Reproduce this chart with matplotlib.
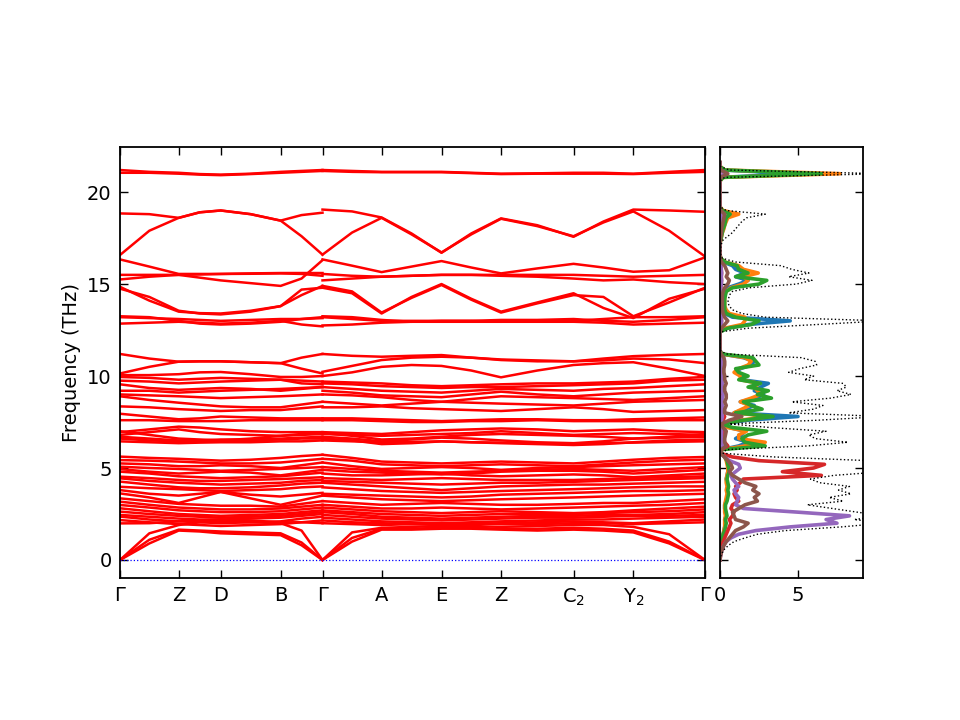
import matplotlib
matplotlib.use("Agg")
import matplotlib.pyplot as plt
import numpy as np

plt.rcParams["font.size"] = 14

# special points along the path (cumulative distance) and their labels
kdist = [0.0, 0.0587, 0.1007, 0.1606, 0.2025, 0.2616, 0.3215, 0.381, 0.4535, 0.5133, 0.585]
klabels = ["Γ", "Z", "D", "B", "Γ", "A", "E", "Z", "C$_2$", "Y$_2$", "Γ"]

# frequencies (THz) at special points and segment midpoints
# branch 1: Γ-Z-D-B-Γ (9 nodes), branch 2: Γ-A-E-Z-C2-Y2-Γ (13 nodes)
bands_b1 = [
    [21.2, 21.1, 21.05, 20.98, 20.95, 21.0, 21.1, 21.15, 21.2],
    [21.05, 21.05, 21.0, 20.95, 20.92, 20.98, 21.05, 21.1, 21.15],
    [18.84, 18.8, 18.6, 18.9, 19.0, 18.8, 18.45, 18.75, 18.88],
    [16.58, 17.9, 18.6, 18.9, 19.0, 18.8, 18.45, 17.6, 16.6],
    [16.34, 15.95, 15.55, 15.55, 15.55, 15.58, 15.6, 15.6, 15.6],
    [15.5, 15.5, 15.5, 15.35, 15.2, 15.05, 14.9, 15.3, 16.3],
    [15.25, 15.4, 15.5, 15.52, 15.55, 15.56, 15.58, 15.55, 15.45],
    [14.85, 14.1, 13.5, 13.42, 13.4, 13.55, 13.8, 14.7, 14.8],
    [14.75, 14.3, 13.55, 13.4, 13.35, 13.5, 13.8, 14.4, 14.9],
    [13.2, 13.15, 13.1, 13.05, 13.0, 13.05, 13.1, 13.1, 13.15],
    [12.85, 12.9, 12.95, 12.9, 12.85, 12.9, 13.0, 12.8, 12.7],
    [13.25, 13.2, 13.0, 12.85, 12.8, 12.85, 12.95, 13.1, 13.2],
    [11.2, 10.95, 10.78, 10.8, 10.8, 10.75, 10.7, 11.0, 11.2],
    [10.14, 10.5, 10.78, 10.8, 10.8, 10.75, 10.7, 10.4, 10.14],
    [10.05, 10.05, 10.1, 10.2, 10.22, 10.1, 9.95, 9.95, 10.0],
    [9.95, 9.9, 9.8, 9.85, 9.9, 9.85, 9.8, 9.75, 9.7],
    [9.75, 9.7, 9.6, 9.65, 9.7, 9.75, 9.8, 9.6, 9.55],
    [9.55, 9.35, 9.25, 9.3, 9.35, 9.3, 9.2, 9.3, 9.4],
    [9.2, 9.2, 9.1, 9.15, 9.2, 9.25, 9.3, 9.35, 9.4],
    [9.0, 8.95, 8.9, 8.85, 8.8, 8.85, 8.9, 8.95, 9.0],
    [8.9, 8.7, 8.55, 8.45, 8.35, 8.3, 8.3, 8.45, 8.6],
    [8.35, 8.3, 8.2, 8.15, 8.1, 8.15, 8.15, 8.25, 8.35],
    [7.95, 7.8, 7.65, 7.7, 7.8, 7.75, 7.7, 7.7, 7.7],
    [7.6, 7.6, 7.55, 7.55, 7.55, 7.6, 7.6, 7.6, 7.6],
    [6.95, 7.1, 7.25, 7.2, 7.1, 7.0, 6.95, 6.95, 6.95],
    [6.8, 6.95, 7.1, 6.95, 6.85, 6.8, 6.75, 6.8, 6.85],
    [6.7, 6.6, 6.5, 6.5, 6.55, 6.55, 6.6, 6.65, 6.7],
    [6.6, 6.5, 6.45, 6.45, 6.45, 6.5, 6.55, 6.6, 6.6],
    [6.45, 6.4, 6.35, 6.38, 6.4, 6.4, 6.45, 6.45, 6.5],
    [7.0, 6.8, 6.6, 6.55, 6.5, 6.6, 6.75, 6.85, 6.9],
    [5.62, 5.55, 5.5, 5.45, 5.4, 5.45, 5.55, 5.65, 5.72],
    [5.43, 5.4, 5.35, 5.3, 5.25, 5.25, 5.3, 5.4, 5.5],
    [5.25, 5.2, 5.1, 5.1, 5.15, 5.1, 5.0, 5.15, 5.3],
    [5.07, 5.0, 4.95, 4.9, 4.85, 4.9, 4.95, 5.0, 5.05],
    [4.94, 4.8, 4.7, 4.75, 4.8, 4.75, 4.6, 4.75, 4.9],
    [4.8, 4.7, 4.55, 4.5, 4.45, 4.5, 4.55, 4.65, 4.75],
    [4.53, 4.45, 4.35, 4.3, 4.3, 4.35, 4.4, 4.45, 4.5],
    [4.44, 4.3, 4.2, 4.15, 4.1, 4.15, 4.2, 4.3, 4.35],
    [4.26, 4.1, 3.95, 3.9, 3.9, 3.95, 4.05, 4.15, 4.2],
    [3.98, 3.9, 3.85, 3.8, 3.75, 3.8, 3.85, 3.95, 4.0],
    [3.8, 3.6, 3.5, 3.6, 3.7, 3.55, 3.45, 3.55, 3.65],
    [3.62, 3.4, 3.1, 3.4, 3.7, 3.35, 3.0, 3.25, 3.5],
    [3.35, 3.2, 3.05, 3.0, 2.95, 2.95, 2.9, 3.05, 3.2],
    [3.17, 3.0, 2.85, 2.8, 2.75, 2.75, 2.8, 2.9, 3.0],
    [2.99, 2.85, 2.7, 2.65, 2.6, 2.6, 2.65, 2.75, 2.85],
    [2.81, 2.65, 2.5, 2.45, 2.4, 2.45, 2.5, 2.6, 2.7],
    [2.63, 2.5, 2.4, 2.35, 2.3, 2.35, 2.4, 2.5, 2.6],
    [2.45, 2.35, 2.25, 2.2, 2.2, 2.25, 2.3, 2.4, 2.5],
    [2.36, 2.2, 2.1, 2.05, 2.0, 2.05, 2.1, 2.25, 2.35],
    [2.17, 2.05, 1.95, 1.9, 1.85, 1.9, 1.95, 2.05, 2.15],
    [1.99, 2.0, 2.1, 2.15, 2.2, 2.15, 2.05, 2.05, 2.0],
    [0.0, 1.45, 1.9, 2.05, 2.1, 2.05, 2.0, 1.6, 0.0],
    [0.0, 1.1, 1.65, 1.6, 1.55, 1.5, 1.45, 0.95, 0.0],
    [0.0, 0.9, 1.6, 1.55, 1.45, 1.4, 1.35, 0.8, 0.0],
]
bands_b2 = [
    [21.2, 21.15, 21.1, 21.1, 21.1, 21.05, 21.0, 21.02, 21.05, 21.05, 21.0, 21.1, 21.2],
    [21.15, 21.1, 21.08, 21.08, 21.08, 21.03, 20.98, 21.0, 21.0, 21.0, 20.98, 21.05, 21.1],
    [19.05, 18.95, 18.62, 17.75, 16.7, 17.75, 18.57, 18.2, 17.57, 18.4, 19.05, 19.0, 18.93],
    [16.6, 17.8, 18.6, 17.7, 16.72, 17.7, 18.55, 18.15, 17.6, 18.35, 18.95, 17.9, 16.5],
    [16.34, 16.0, 15.65, 15.95, 16.25, 15.9, 15.58, 15.85, 16.1, 15.9, 15.67, 15.75, 16.45],
    [15.2, 15.3, 15.4, 15.45, 15.5, 15.5, 15.5, 15.5, 15.5, 15.45, 15.4, 15.45, 15.5],
    [15.55, 15.45, 15.4, 15.45, 15.5, 15.5, 15.45, 15.4, 15.3, 15.2, 15.25, 15.1, 15.0],
    [14.8, 14.5, 13.4, 14.3, 15.0, 14.2, 13.5, 14.0, 14.5, 13.7, 13.15, 14.2, 14.75],
    [14.9, 14.6, 13.45, 14.25, 14.95, 14.15, 13.45, 13.95, 14.4, 14.3, 13.25, 14.0, 14.8],
    [13.2, 13.1, 13.0, 13.0, 13.0, 13.0, 13.05, 13.05, 13.1, 13.0, 12.95, 13.05, 13.2],
    [12.75, 12.8, 12.9, 12.95, 13.0, 13.0, 12.95, 12.95, 12.95, 12.9, 12.8, 12.85, 12.9],
    [13.25, 13.2, 13.05, 12.95, 12.95, 12.95, 12.95, 13.0, 13.0, 13.1, 13.2, 13.2, 13.25],
    [11.2, 11.1, 11.05, 11.1, 11.14, 11.0, 10.87, 10.8, 10.8, 10.95, 11.08, 11.15, 11.2],
    [10.23, 10.55, 10.87, 11.0, 11.05, 11.0, 10.9, 10.85, 10.8, 10.85, 10.95, 10.9, 10.7],
    [10.0, 10.2, 10.5, 10.6, 10.55, 10.3, 9.93, 10.3, 10.6, 10.7, 10.75, 10.4, 10.0],
    [9.7, 9.65, 9.6, 9.5, 9.45, 9.5, 9.55, 9.6, 9.6, 9.65, 9.7, 9.85, 9.95],
    [9.6, 9.55, 9.45, 9.4, 9.35, 9.4, 9.4, 9.45, 9.5, 9.55, 9.6, 9.75, 9.8],
    [9.4, 9.3, 9.2, 9.15, 9.1, 9.2, 9.3, 9.25, 9.2, 9.3, 9.35, 9.45, 9.55],
    [9.2, 9.1, 8.95, 8.9, 8.85, 9.0, 9.15, 9.0, 8.9, 9.0, 9.1, 9.15, 9.2],
    [9.0, 8.95, 8.85, 8.7, 8.6, 8.75, 8.9, 8.85, 8.8, 8.75, 8.7, 8.8, 8.9],
    [8.6, 8.5, 8.4, 8.5, 8.6, 8.55, 8.5, 8.45, 8.4, 8.5, 8.6, 8.65, 8.7],
    [8.3, 8.3, 8.35, 8.25, 8.2, 8.15, 8.1, 8.2, 8.3, 8.2, 8.05, 8.1, 8.15],
    [7.7, 7.7, 7.65, 7.6, 7.55, 7.6, 7.65, 7.65, 7.6, 7.6, 7.65, 7.7, 7.75],
    [7.6, 7.6, 7.55, 7.5, 7.5, 7.55, 7.55, 7.6, 7.55, 7.55, 7.55, 7.6, 7.6],
    [6.95, 6.9, 6.85, 6.95, 7.05, 7.1, 7.15, 7.1, 7.0, 7.05, 7.1, 7.0, 6.95],
    [6.85, 6.8, 6.75, 6.8, 6.85, 6.9, 7.0, 6.9, 6.8, 6.85, 6.9, 6.85, 6.8],
    [6.7, 6.6, 6.45, 6.55, 6.65, 6.6, 6.5, 6.4, 6.35, 6.45, 6.6, 6.65, 6.7],
    [6.6, 6.5, 6.3, 6.35, 6.45, 6.4, 6.35, 6.3, 6.25, 6.3, 6.4, 6.5, 6.55],
    [6.5, 6.45, 6.4, 6.42, 6.45, 6.4, 6.38, 6.35, 6.3, 6.35, 6.38, 6.42, 6.45],
    [6.9, 6.75, 6.55, 6.6, 6.7, 6.8, 6.85, 6.8, 6.75, 6.7, 6.6, 6.7, 6.85],
    [5.72, 5.55, 5.35, 5.3, 5.25, 5.3, 5.35, 5.3, 5.25, 5.35, 5.45, 5.55, 5.6],
    [5.5, 5.4, 5.2, 5.15, 5.1, 5.15, 5.2, 5.15, 5.1, 5.2, 5.3, 5.4, 5.45],
    [5.3, 5.1, 4.95, 5.0, 5.05, 5.0, 4.9, 5.0, 5.05, 5.1, 5.15, 5.2, 5.25],
    [5.05, 4.95, 4.85, 4.8, 4.75, 4.8, 4.85, 4.9, 4.95, 4.9, 4.85, 4.95, 5.05],
    [4.9, 4.8, 4.75, 4.7, 4.65, 4.7, 4.8, 4.85, 4.85, 4.8, 4.7, 4.8, 4.9],
    [4.7, 4.6, 4.6, 4.65, 4.7, 4.6, 4.55, 4.6, 4.65, 4.6, 4.5, 4.6, 4.7],
    [4.45, 4.4, 4.35, 4.4, 4.45, 4.4, 4.35, 4.35, 4.35, 4.4, 4.45, 4.5, 4.55],
    [4.3, 4.25, 4.2, 4.15, 4.1, 4.15, 4.2, 4.2, 4.25, 4.3, 4.35, 4.4, 4.45],
    [4.2, 4.1, 4.0, 3.9, 3.8, 3.9, 4.0, 4.05, 4.1, 4.1, 4.15, 4.2, 4.25],
    [3.95, 3.85, 3.75, 3.7, 3.65, 3.7, 3.75, 3.8, 3.85, 3.9, 3.95, 4.0, 4.0],
    [3.6, 3.55, 3.5, 3.45, 3.4, 3.45, 3.55, 3.6, 3.65, 3.7, 3.75, 3.75, 3.8],
    [3.5, 3.4, 3.3, 3.25, 3.2, 3.25, 3.3, 3.35, 3.4, 3.45, 3.5, 3.55, 3.6],
    [3.2, 3.1, 3.0, 3.05, 3.1, 3.05, 3.0, 3.0, 3.05, 3.1, 3.1, 3.2, 3.3],
    [3.0, 2.9, 2.8, 2.8, 2.85, 2.8, 2.75, 2.8, 2.85, 2.9, 2.95, 3.0, 3.1],
    [2.85, 2.75, 2.65, 2.6, 2.55, 2.6, 2.65, 2.6, 2.55, 2.6, 2.7, 2.8, 2.9],
    [2.7, 2.6, 2.5, 2.45, 2.4, 2.45, 2.5, 2.5, 2.5, 2.55, 2.6, 2.65, 2.75],
    [2.6, 2.5, 2.35, 2.3, 2.25, 2.3, 2.35, 2.4, 2.4, 2.45, 2.45, 2.5, 2.6],
    [2.45, 2.35, 2.25, 2.2, 2.15, 2.2, 2.25, 2.3, 2.3, 2.35, 2.4, 2.4, 2.45],
    [2.3, 2.2, 2.1, 2.05, 2.0, 2.05, 2.1, 2.15, 2.2, 2.2, 2.25, 2.3, 2.35],
    [2.15, 2.05, 2.0, 1.95, 1.9, 1.95, 2.0, 2.05, 2.1, 2.05, 2.0, 2.1, 2.2],
    [2.0, 1.95, 1.9, 1.95, 2.0, 2.0, 1.95, 1.95, 2.0, 2.0, 1.95, 2.0, 2.05],
    [0.0, 1.5, 1.75, 1.8, 1.85, 1.85, 1.8, 1.85, 1.9, 1.9, 1.8, 1.4, 0.0],
    [0.0, 1.2, 1.7, 1.7, 1.75, 1.75, 1.7, 1.7, 1.75, 1.7, 1.6, 1.0, 0.0],
    [0.0, 1.0, 1.65, 1.65, 1.7, 1.7, 1.65, 1.6, 1.65, 1.6, 1.5, 0.9, 0.0],
]

# DOS sampled every 0.2 THz from 0 to 21.6 THz
dos_freq = np.linspace(0, 21.6, 109)
dos_total = [
    0.0, 0.05, 0.15, 0.3, 0.55, 0.9, 1.6, 2.4, 4.2, 7.8,
    10.5, 8.6, 10.5, 8.8, 7.2, 5.6, 7.9, 7.0, 8.4, 7.6,
    8.3, 6.4, 5.8, 7.3, 10.5, 9.2, 10.5, 9.6, 3.5, 0.2,
    0.4, 5.6, 8.2, 6.1, 5.7, 6.8, 3.2, 0.6, 6.3, 10.5,
    4.4, 6.0, 6.6, 4.6, 7.1, 8.4, 7.5, 8.1, 7.9, 5.4,
    6.0, 4.4, 5.1, 6.2, 6.1, 5.2, 0.4, 0, 0, 0,
    0, 0, 0, 1.8, 6.2, 10.5, 2.9, 1.4, 0.8, 0.6,
    0.5, 0.55, 0.6, 0.8, 1.9, 4.9, 5.9, 4.4, 5.7, 4.6,
    3.9, 1.0, 0.15, 0.05, 0.05, 0.05, 0.1, 0.2, 0.5, 0.8,
    1.0, 1.2, 1.4, 1.7, 2.9, 0.4, 0, 0, 0, 0,
    0, 0, 0, 0, 0.3, 10.5, 0.6, 0, 0,
]
pdos_1 = [
    0, 0.01, 0.03, 0.05, 0.08, 0.1, 0.15, 0.2, 0.25, 0.3,
    0.35, 0.3, 0.4, 0.35, 0.3, 0.3, 0.4, 0.45, 0.5, 0.45,
    0.5, 0.45, 0.4, 0.45, 0.5, 0.55, 0.5, 0.45, 0.3, 0.05,
    0.1, 1.2, 1.8, 1.0, 1.4, 1.6, 0.6, 0.1, 1.8, 5.0,
    0.9, 1.6, 2.2, 1.3, 2.3, 2.8, 2.2, 2.6, 3.1, 1.4,
    1.5, 1.0, 1.3, 2.0, 2.2, 1.5, 0.1, 0, 0, 0,
    0, 0, 0, 0.4, 1.8, 4.5, 0.8, 0.3, 0.2, 0.15,
    0.12, 0.12, 0.15, 0.2, 0.5, 1.2, 1.8, 1.0, 1.6, 1.0,
    0.8, 0.2, 0.05, 0, 0, 0, 0, 0.02, 0.05, 0.1,
    0.15, 0.2, 0.25, 0.3, 0.7, 0.1, 0, 0, 0, 0,
    0, 0, 0, 0, 0.1, 5.0, 0.2, 0, 0,
]
pdos_2 = [
    0, 0.01, 0.03, 0.05, 0.08, 0.1, 0.15, 0.2, 0.25, 0.3,
    0.3, 0.3, 0.35, 0.3, 0.3, 0.3, 0.35, 0.4, 0.45, 0.4,
    0.45, 0.4, 0.4, 0.45, 0.5, 0.5, 0.45, 0.4, 0.3, 0.05,
    0.1, 1.6, 2.9, 1.2, 1.2, 1.7, 0.5, 0.1, 1.3, 3.2,
    0.9, 1.4, 1.9, 1.3, 2.0, 2.6, 2.4, 2.2, 2.5, 1.3,
    1.3, 0.9, 1.2, 1.8, 2.0, 1.6, 0.1, 0, 0, 0,
    0, 0, 0, 0.3, 1.4, 1.6, 1.6, 0.6, 0.4, 0.3,
    0.3, 0.3, 0.3, 0.4, 0.7, 1.5, 1.8, 1.5, 2.45, 1.5,
    1.2, 0.3, 0.05, 0, 0, 0, 0, 0.05, 0.1, 0.15,
    0.25, 0.3, 0.4, 0.5, 1.2, 0.2, 0, 0, 0, 0,
    0, 0, 0, 0, 0.2, 7.7, 0.3, 0, 0,
]
pdos_3 = [
    0, 0.01, 0.03, 0.05, 0.08, 0.1, 0.15, 0.2, 0.3, 0.35,
    0.4, 0.35, 0.45, 0.4, 0.35, 0.35, 0.45, 0.5, 0.55, 0.5,
    0.55, 0.5, 0.45, 0.5, 0.6, 0.55, 0.5, 0.45, 0.3, 0.05,
    0.1, 2.9, 1.6, 1.4, 1.8, 3.0, 0.8, 0.1, 1.5, 3.4,
    1.0, 2.7, 2.0, 1.5, 3.3, 2.4, 3.1, 1.8, 2.6, 1.2,
    1.8, 1.2, 1.0, 2.5, 2.3, 2.1, 0.1, 0, 0, 0,
    0, 0, 0, 0.5, 2.0, 2.5, 1.0, 0.4, 0.3, 0.3,
    0.3, 0.3, 0.35, 0.4, 0.8, 2.5, 3.0, 1.0, 1.8, 1.2,
    1.1, 0.3, 0.05, 0, 0, 0, 0, 0.05, 0.1, 0.15,
    0.2, 0.3, 0.35, 0.4, 0.65, 0.15, 0, 0, 0, 0,
    0, 0, 0, 0, 0.2, 6.5, 0.3, 0, 0,
]
pdos_4 = [
    0, 0.02, 0.05, 0.1, 0.15, 0.2, 0.3, 0.4, 0.5, 0.6,
    0.7, 0.6, 0.8, 0.9, 0.7, 0.8, 1.2, 1.0, 0.9, 1.1,
    1.0, 1.3, 1.5, 6.5, 4.0, 6.0, 6.7, 2.5, 0.8, 0.05,
    0.1, 0.5, 0.3, 0.2, 0.2, 0.2, 0.1, 0.05, 0.2, 0.3,
    0.1, 0.1, 0.1, 0.1, 0.1, 0.1, 0.1, 0.1, 0.1, 0.1,
    0.1, 0.1, 0.1, 0.1, 0.1, 0.1, 0.02, 0, 0, 0,
    0, 0, 0, 0.03, 0.08, 0.1, 0.08, 0.05, 0.05, 0.05,
    0.05, 0.05, 0.05, 0.05, 0.05, 0.08, 0.1, 0.08, 0.1, 0.08,
    0.06, 0.02, 0, 0, 0, 0, 0, 0, 0.02, 0.02,
    0.03, 0.03, 0.04, 0.05, 0.06, 0.02, 0, 0, 0, 0,
    0, 0, 0, 0, 0.02, 0.3, 0.02, 0, 0,
]
pdos_5 = [
    0, 0.03, 0.08, 0.15, 0.25, 0.4, 0.7, 1.2, 2.3, 4.5,
    7.5, 6.8, 8.3, 5.0, 1.5, 1.0, 1.1, 1.2, 1.0, 0.9,
    1.2, 1.0, 0.8, 0.7, 1.0, 1.3, 1.2, 0.6, 0.3, 0.02,
    0.05, 0.2, 0.15, 0.1, 0.1, 0.1, 0.05, 0.02, 0.1, 0.15,
    0.12, 0.15, 0.15, 0.1, 0.15, 0.2, 0.15, 0.15, 0.15, 0.1,
    0.1, 0.1, 0.1, 0.1, 0.12, 0.1, 0.02, 0, 0, 0,
    0, 0, 0, 0.03, 0.08, 0.1, 0.08, 0.05, 0.05, 0.05,
    0.05, 0.05, 0.05, 0.05, 0.05, 0.08, 0.1, 0.08, 0.1, 0.08,
    0.06, 0.02, 0, 0, 0, 0, 0, 0, 0.02, 0.02,
    0.03, 0.03, 0.04, 0.05, 0.06, 0.02, 0, 0, 0, 0,
    0, 0, 0, 0, 0.02, 0.3, 0.02, 0, 0,
]
pdos_6 = [
    0, 0.03, 0.08, 0.15, 0.25, 0.4, 0.6, 0.8, 1.0, 1.5,
    1.8, 1.0, 0.9, 0.8, 1.2, 1.6, 2.4, 2.2, 2.5, 2.1,
    2.3, 1.6, 1.2, 0.8, 0.6, 0.8, 0.7, 0.5, 0.3, 0.05,
    0.1, 0.4, 0.3, 0.3, 0.35, 0.4, 0.2, 0.1, 0.6, 1.4,
    0.3, 0.3, 0.4, 0.3, 0.4, 0.4, 0.3, 0.3, 0.4, 0.3,
    0.3, 0.25, 0.25, 0.3, 0.3, 0.25, 0.05, 0, 0, 0,
    0, 0, 0, 0.1, 0.3, 0.5, 0.3, 0.2, 0.15, 0.15,
    0.15, 0.15, 0.15, 0.2, 0.3, 0.5, 0.6, 0.4, 0.5, 0.4,
    0.3, 0.1, 0.02, 0, 0, 0, 0, 0.02, 0.05, 0.1,
    0.1, 0.15, 0.2, 0.25, 0.3, 0.05, 0, 0, 0, 0,
    0, 0, 0, 0, 0.05, 0.5, 0.05, 0, 0,
]
pdos_all = [pdos_1, pdos_2, pdos_3, pdos_4, pdos_5, pdos_6]


def seg_nodes(pts):
    # special points plus the midpoint of each segment
    out = []
    for a, b in zip(pts[:-1], pts[1:]):
        out += [a, 0.5 * (a + b)]
    out.append(pts[-1])
    return out


k_b1 = seg_nodes(kdist[0:5])
k_b2 = seg_nodes(kdist[4:])

fig = plt.figure(figsize=(9.6, 7.2), dpi=100)
ax = fig.add_axes([0.125, 0.1972, 0.6094, 0.5986])
ax2 = fig.add_axes([0.75, 0.1972, 0.149, 0.5986])

for row in bands_b1:
    ax.plot(k_b1, row, color="r", lw=1.8)
for row in bands_b2:
    ax.plot(k_b2, row, color="r", lw=1.8)
ax.axhline(0, color="b", ls=":", lw=0.9)

ylim = (-0.98, 22.45)
ax.set_xlim(kdist[0], kdist[-1])
ax.set_ylim(*ylim)
ax.set_xticks(kdist)
ax.set_xticklabels(klabels)
ax.set_yticks([0, 5, 10, 15, 20])
ax.set_ylabel("Frequency (THz)")

for c, pd in enumerate(pdos_all):
    ax2.plot(pd, dos_freq, color="C%d" % c, lw=2.6)
ax2.plot(dos_total, dos_freq, color="k", ls=":", lw=1)
ax2.set_xlim(0, 9.17)
ax2.set_ylim(*ylim)
ax2.set_xticks([0, 5])
ax2.set_yticks([0, 5, 10, 15, 20])
ax2.set_yticklabels([])

for a in (ax, ax2):
    a.tick_params(direction="in", top=True, right=True, length=6, width=1, pad=6)
    for s in a.spines.values():
        s.set_linewidth(1.3)

fig.savefig("out.png", dpi=100)
